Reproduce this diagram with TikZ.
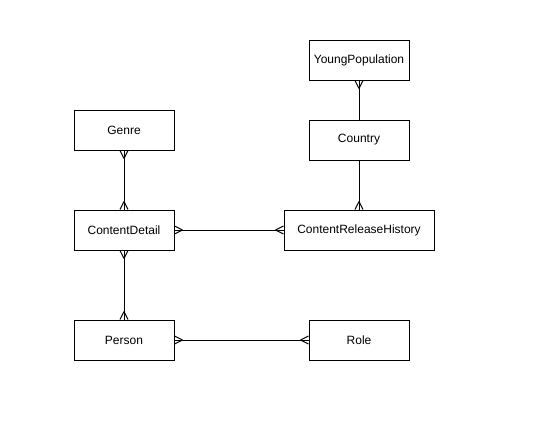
\documentclass[tikz,border=0pt]{standalone}
\usepackage{fontspec}
\setmainfont{Liberation Sans}
\usepackage{tikz}
\usetikzlibrary{arrows.meta,shapes}

\pgfdeclarearrow{
  name = crowfoot,
  parameters = {\the\pgfarrowlength},
  setup code = {
    \pgfarrowssettipend{0pt}
    \pgfarrowssetbackend{-\pgfarrowlength}
    \pgfarrowssetlineend{0pt}
    \pgfarrowssavethe\pgfarrowlength
  },
  drawing code = {
    \pgfpathmoveto{\pgfpoint{-\pgfarrowlength}{0pt}}
    \pgfpathlineto{\pgfpoint{0pt}{.5\pgfarrowlength}}
    \pgfpathmoveto{\pgfpoint{-\pgfarrowlength}{0pt}}
    \pgfpathlineto{\pgfpoint{0pt}{-.5\pgfarrowlength}}
    \pgfusepathqstroke
  },
  defaults = {length = 8bp}
}

\tikzset{
  entity/.style={draw,rectangle,line width=1bp,minimum width=100bp,minimum height=40bp,inner sep=0pt,font=\fontsize{12bp}{14bp}\selectfont},
  rel/.style={line width=1bp}
}

\begin{document}
\begin{tikzpicture}
\useasboundingbox (0,0) rectangle (534bp,-446bp);
\node (Genre) at (124bp,-130bp)[entity] {Genre};
\node (ContentDetail) at (124bp,-230bp)[entity] {ContentDetail};
\node (Person) at (124bp,-340bp)[entity] {Person};
\node (YoungPopulation) at (359bp,-60bp)[entity] {YoungPopulation};
\node (Country) at (359bp,-140bp)[entity] {Country};
\node (ContentReleaseHistory) at (359bp,-230bp)[entity,minimum width=150bp] {ContentReleaseHistory};
\node (Role) at (359bp,-340bp)[entity] {Role};
\draw [crowfoot-crowfoot,rel] (Genre) -- (ContentDetail);
\draw [crowfoot-crowfoot,rel] (ContentDetail) -- (ContentReleaseHistory);
\draw [crowfoot-crowfoot,rel] (ContentDetail) -- (Person);
\draw [crowfoot-crowfoot,rel] (Person) -- (Role);
\draw [crowfoot-,rel] (YoungPopulation) -- (Country);
\draw [-crowfoot,rel] (Country) -- (ContentReleaseHistory);
\end{tikzpicture}
\end{document}
